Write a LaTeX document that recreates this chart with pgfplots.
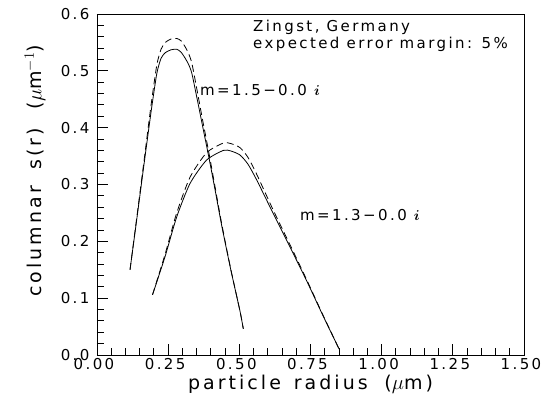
\documentclass[border=0pt]{standalone}
\usepackage{amsmath}
\usepackage{fontspec}
\setmainfont[LetterSpace=16]{DejaVu Sans}
\usepackage{pgfplots}
\pgfplotsset{compat=1.18}

\newcommand{\fs}{\fontsize{15bp}{18bp}\selectfont}
\newcommand{\fl}{\fontsize{19bp}{22bp}\selectfont}

\begin{document}
\begin{tikzpicture}[font=\fs]
\begin{axis}[
    scale only axis,
    width=427bp, height=341bp,
    xmin=0, xmax=1.5, ymin=0, ymax=0.6,
    xtick={0,0.25,0.5,0.75,1,1.25,1.5}, ytick={0,0.1,0.2,0.3,0.4,0.5,0.6},
    minor x tick num=4, minor y tick num=4,
    xtick align=inside, ytick align=inside,
    xtick pos=bottom, ytick pos=left,
    major tick length=11bp, minor tick length=7bp,
    axis line style={line width=0.9bp},
    xtick style={draw=black, line width=0.9bp},
    ytick style={draw=black, line width=0.9bp},
    minor tick style={draw=black, line width=0.9bp},
    /pgf/number format/assume math mode=true,
    xticklabel style={xshift=-3bp, /pgf/number format/.cd, fixed, fixed zerofill, precision=2},
    yticklabel style={xshift=-4bp, /pgf/number format/.cd, fixed, fixed zerofill, precision=1},
    tick label style={font=\fs},
    label style={font=\fl},
    xlabel={particle\hspace{0.2em} radius\hspace{0.4em} ($\mu$m)},
    ylabel={columnar\hspace{0.4em} s(r)\hspace{0.5em} ($\mu$m$^{-1}$)},
    xlabel style={at={(axis description cs:0.5,-0.085)}, anchor=center},
    ylabel style={at={(axis description cs:-0.145,0.54)}, anchor=center},
]
% m = 1.5 - 0.0 i, solid
\addplot[black, line width=0.8bp, smooth, tension=0.4] coordinates {
(0.116,0.150) (0.140,0.240) (0.165,0.335) (0.190,0.428) (0.210,0.495)
(0.225,0.522) (0.240,0.532) (0.260,0.537) (0.280,0.538) (0.295,0.533)
(0.310,0.522) (0.322,0.511) (0.333,0.496) (0.350,0.455) (0.370,0.405)
(0.393,0.348) (0.415,0.290) (0.438,0.228) (0.470,0.150) (0.502,0.078)
(0.514,0.046)
};
% m = 1.5 - 0.0 i, dashed
\addplot[black, line width=0.8bp, dash pattern=on 7bp off 4bp, smooth, tension=0.4] coordinates {
(0.116,0.150) (0.140,0.243) (0.165,0.341) (0.190,0.440) (0.210,0.510)
(0.225,0.538) (0.240,0.550) (0.260,0.556) (0.280,0.557) (0.295,0.553)
(0.310,0.542) (0.322,0.530) (0.333,0.514) (0.350,0.470) (0.370,0.416)
(0.393,0.356) (0.415,0.295) (0.438,0.231) (0.470,0.151) (0.502,0.078)
(0.514,0.046)
};
% m = 1.3 - 0.0 i, solid
\addplot[black, line width=0.8bp, smooth, tension=0.4] coordinates {
(0.195,0.106) (0.239,0.173) (0.280,0.243) (0.327,0.302) (0.385,0.343)
(0.444,0.360) (0.470,0.359) (0.502,0.352) (0.530,0.336) (0.561,0.308)
(0.619,0.249) (0.678,0.190) (0.737,0.130) (0.795,0.068) (0.851,0.010)
};
% m = 1.3 - 0.0 i, dashed
\addplot[black, line width=0.8bp, dash pattern=on 7bp off 4bp, smooth, tension=0.4] coordinates {
(0.195,0.106) (0.239,0.177) (0.280,0.250) (0.327,0.313) (0.385,0.356)
(0.444,0.373) (0.470,0.372) (0.502,0.365) (0.530,0.348) (0.561,0.318)
(0.619,0.255) (0.678,0.194) (0.737,0.132) (0.795,0.069) (0.851,0.010)
};
\node[anchor=west, inner sep=0pt] at (axis cs:0.548,0.576) {Zingst, Germany};
\node[anchor=west, inner sep=0pt] at (axis cs:0.548,0.546) {expected error margin: 5\%};
\node[anchor=west, inner sep=0pt] at (axis cs:0.362,0.4666) {m=1.5\char"2212 0.0  $\boldsymbol{i}$};
\node[anchor=west, inner sep=0pt] at (axis cs:0.713,0.2465) {m=1.3\char"2212 0.0  $\boldsymbol{i}$};
\end{axis}
\pgfresetboundingbox
\path[use as bounding box] (current axis.south west) ++(-97bp,-53bp) rectangle ++(541bp,408bp);
\end{tikzpicture}
\end{document}
